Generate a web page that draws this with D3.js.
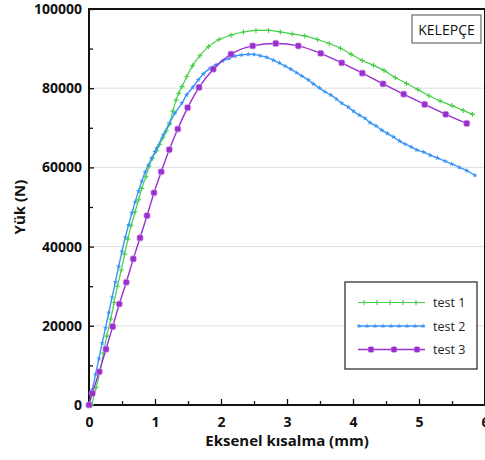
<!DOCTYPE html>
<html>
<head>
<meta charset="utf-8">
<script src="https://cdn.jsdelivr.net/npm/d3@7"></script>
<style>
  html, body { margin: 0; padding: 0; background: #fff; }
  svg { display: block; }
</style>
</head>
<body>
<svg id="chart" width="485" height="460"></svg>
<script>
// Axial shortening (mm) vs load (N) for three clamp ("kelepçe") tests
const seriesNames = ["test 1", "test 2", "test 3"];

const test1Disp = [0.04, 0.11, 0.17, 0.22, 0.27, 0.33, 0.38, 0.43, 0.49, 0.54, 0.59, 0.64, 0.70, 0.75, 0.80,
  0.86, 0.91, 0.96, 1.02, 1.07, 1.12, 1.17, 1.22, 1.27, 1.32, 1.36, 1.41, 1.48, 1.57, 1.68, 1.81, 1.97,
  2.15, 2.34, 2.53, 2.72, 2.90, 3.08, 3.27, 3.46, 3.64, 3.81, 3.97, 4.14, 4.31, 4.47, 4.64, 4.81, 4.98,
  5.15, 5.32, 5.50, 5.67, 5.81];
const test1Load = [0, 4500, 8800, 13100, 17400, 21700, 25900, 30000, 34100, 38100, 41900, 45400, 48800, 51800, 54700,
  57600, 60300, 62300, 64200, 65800, 67500, 69200, 71000, 74200, 77000, 78700, 80400, 82900, 85700, 88200, 90500, 92300,
  93400, 94200, 94600, 94600, 94200, 93700, 93200, 92300, 91300, 90100, 88600, 87000, 85800, 84500, 82700, 81200, 79700,
  78100, 76800, 75600, 74400, 73400];

const test2Disp = [0, 0.05, 0.10, 0.15, 0.20, 0.25, 0.30, 0.35, 0.40, 0.45, 0.50, 0.55, 0.60, 0.65, 0.70, 0.75,
  0.80, 0.85, 0.90, 0.95, 1.00, 1.026, 1.126, 1.217, 1.303, 1.405, 1.480, 1.571, 1.656, 1.732, 1.833, 1.924,
  2.026, 2.121, 2.212, 2.314, 2.414, 2.500, 2.591, 2.692, 2.792, 2.883, 2.970, 3.056, 3.147, 3.223, 3.323,
  3.398, 3.489, 3.576, 3.662, 3.753, 3.829, 3.929, 4.005, 4.095, 4.182, 4.258, 4.348, 4.435, 4.520, 4.611,
  4.702, 4.788, 4.879, 4.965, 5.065, 5.167, 5.277, 5.394, 5.495, 5.611, 5.723, 5.848];
const test2Load = [0, 3900, 7800, 11700, 15600, 19500, 23300, 27200, 31100, 35000, 38800, 42300, 45500, 48500, 51300, 54000,
  56500, 58800, 60600, 62300, 63900, 64800, 68200, 71100, 73700, 76200, 78300, 80200, 82100, 83600, 85000, 85900,
  86900, 87500, 88100, 88400, 88550, 88550, 88200, 87800, 87100, 86400, 85600, 84800, 83900, 83100, 82100,
  81100, 80100, 79100, 78300, 77200, 76200, 75200, 74200, 73200, 72400, 71300, 70500, 69400, 68600, 67700,
  66700, 65900, 65200, 64400, 63900, 63100, 62400, 61600, 60900, 60000, 59200, 58000];

const test3Disp = [0, 0.05, 0.156, 0.258, 0.359, 0.459, 0.565, 0.671, 0.773, 0.879, 0.985, 1.095, 1.217, 1.345,
  1.495, 1.667, 1.883, 2.152, 2.480, 2.829, 3.171, 3.511, 3.829, 4.141, 4.455, 4.768, 5.086, 5.405, 5.723];
const test3Load = [0, 2950, 8400, 14100, 19800, 25500, 31000, 36900, 42200, 47800, 53600, 58900, 64500, 69700,
  75100, 80200, 84800, 88600, 90700, 91300, 90700, 88800, 86400, 83800, 81100, 78500, 75900, 73400, 71100];

const xMajorTicks = [0, 1, 2, 3, 4, 5, 6];
const xMinorTicks = [0.5, 1.5, 2.5, 3.5, 4.5, 5.5];
const yMajorTicks = [0, 20000, 40000, 60000, 80000, 100000];
const yMinorTicks = [10000, 30000, 50000, 70000, 90000];

const xTitle = "Eksenel kısalma (mm)";
const yTitle = "Yük (N)";
const panelTitle = "KELEPÇE";

const colors = ["#44d044", "#3a95f7", "#9a2fcf"];

const svg = d3.select("#chart");
const plot = { left: 89, right: 485, top: 9, bottom: 405 };

const x = d3.scaleLinear().domain([0, 6]).range([plot.left, plot.right]);
const y = d3.scaleLinear().domain([0, 100000]).range([plot.bottom, plot.top]);

// horizontal gridlines
svg.append("g")
  .selectAll("line")
  .data(yMajorTicks.filter(v => v > 0 && v < 100000))
  .join("line")
  .attr("x1", plot.left).attr("x2", plot.right)
  .attr("y1", d => y(d)).attr("y2", d => y(d))
  .attr("stroke", "#dedede").attr("stroke-width", 1);

const labelFont = "'Open Sans', 'DejaVu Sans', sans-serif";

// x axis: major ticks with labels, minor ticks without
const xAxis = svg.append("g")
  .attr("transform", `translate(0,${plot.bottom})`)
  .call(d3.axisBottom(x).tickValues(xMajorTicks).tickFormat(d3.format("d"))
    .tickSizeInner(-6).tickSizeOuter(0).tickPadding(12));
xAxis.selectAll("text").attr("font-family", labelFont).attr("font-size", 14).attr("font-weight", 700).attr("fill", "#111");
xAxis.select(".domain").remove();
xAxis.selectAll(".tick line").attr("stroke", "#111").attr("stroke-width", 1.3);

svg.append("g")
  .attr("transform", `translate(0,${plot.bottom})`)
  .call(d3.axisBottom(x).tickValues(xMinorTicks).tickFormat("").tickSizeInner(-4).tickSizeOuter(0))
  .call(g => g.select(".domain").remove())
  .selectAll(".tick line").attr("stroke", "#111").attr("stroke-width", 1.3);

// y axis
const yAxis = svg.append("g")
  .attr("transform", `translate(${plot.left},0)`)
  .call(d3.axisLeft(y).tickValues(yMajorTicks).tickFormat(d3.format("d"))
    .tickSizeInner(-5).tickSizeOuter(0).tickPadding(7));
yAxis.selectAll("text").attr("font-family", labelFont).attr("font-size", 14).attr("font-weight", 700).attr("fill", "#111");
yAxis.select(".domain").remove();
yAxis.selectAll(".tick line").attr("stroke", "#111").attr("stroke-width", 1.3);

svg.append("g")
  .attr("transform", `translate(${plot.left},0)`)
  .call(d3.axisLeft(y).tickValues(yMinorTicks).tickFormat("").tickSizeInner(-4).tickSizeOuter(0))
  .call(g => g.select(".domain").remove())
  .selectAll(".tick line").attr("stroke", "#111").attr("stroke-width", 1.3);

// plot frame
svg.append("rect")
  .attr("x", plot.left).attr("y", plot.top)
  .attr("width", plot.right - plot.left).attr("height", plot.bottom - plot.top)
  .attr("fill", "none").attr("stroke", "#111").attr("stroke-width", 2);

// axis titles
svg.append("text")
  .attr("x", (plot.left + plot.right) / 2).attr("y", 446)
  .attr("text-anchor", "middle")
  .attr("font-family", labelFont).attr("font-size", 15).attr("font-weight", 700).attr("fill", "#111")
  .text(xTitle);

svg.append("text")
  .attr("transform", `translate(25,${(plot.top + plot.bottom) / 2}) rotate(-90)`)
  .attr("text-anchor", "middle")
  .attr("font-family", labelFont).attr("font-size", 15).attr("font-weight", 700).attr("fill", "#111")
  .text(yTitle);

// series
const series = [
  { name: seriesNames[0], pts: test1Disp.map((d, i) => [d, test1Load[i]]), color: colors[0], width: 1.2, marker: "plus" },
  { name: seriesNames[1], pts: test2Disp.map((d, i) => [d, test2Load[i]]), color: colors[1], width: 1.4, marker: "star" },
  { name: seriesNames[2], pts: test3Disp.map((d, i) => [d, test3Load[i]]), color: colors[2], width: 1.4, marker: "square" }
];

const line = d3.line().x(d => x(d[0])).y(d => y(d[1])).curve(d3.curveMonotoneX);

function drawMarker(g, kind, color) {
  if (kind === "plus") {
    g.append("path").attr("d", "M-2.5,0H2.5M0,-2.5V2.5")
      .attr("stroke", color).attr("stroke-width", 1.1).attr("fill", "none");
  } else if (kind === "star") {
    g.append("path").attr("d", d3.symbol(d3.symbolStar, 9)())
      .attr("fill", color).attr("stroke", "none");
  } else {
    g.append("circle").attr("r", 3.6).attr("fill", "#c98be6").attr("opacity", 0.8);
    g.append("rect").attr("x", -2.6).attr("y", -2.6).attr("width", 5.2).attr("height", 5.2)
      .attr("rx", 1).attr("fill", color);
  }
}

const seriesLayer = svg.append("g");
series.forEach(s => {
  const g = seriesLayer.append("g");
  g.append("path").datum(s.pts).attr("d", line)
    .attr("fill", "none").attr("stroke", s.color).attr("stroke-width", s.width);
  g.selectAll("g.m").data(s.pts).join("g").attr("class", "m")
    .attr("transform", d => `translate(${x(d[0])},${y(d[1])})`)
    .each(function () { drawMarker(d3.select(this), s.marker, s.color); });
});

// legend
const legend = svg.append("g");
legend.append("rect")
  .attr("x", 345).attr("y", 282).attr("width", 132).attr("height", 87)
  .attr("fill", "#fff").attr("stroke", "#333").attr("stroke-width", 1.3);

const legendRows = [302.5, 326, 349.5];
const legendMarkerX = [
  [364, 377, 390, 403, 416],
  [359, 367, 375, 383, 391, 399, 407, 415, 423],
  [371, 394, 417]
];
series.forEach((s, i) => {
  const ly = legendRows[i];
  legend.append("line").attr("x1", 358).attr("x2", 425).attr("y1", ly).attr("y2", ly)
    .attr("stroke", s.color).attr("stroke-width", s.width);
  legendMarkerX[i].forEach(mx => {
    drawMarker(legend.append("g").attr("transform", `translate(${mx},${ly})`), s.marker, s.color);
  });
  legend.append("text").attr("x", 433).attr("y", ly + 4.5)
    .attr("font-family", labelFont).attr("font-size", 12.5).attr("fill", "#222")
    .text(s.name);
});

// panel label
const tag = svg.append("g");
tag.append("rect").attr("x", 412).attr("y", 15).attr("width", 69).attr("height", 28)
  .attr("fill", "#fff").attr("stroke", "#777").attr("stroke-width", 1.3);
tag.append("text").attr("x", 446.5).attr("y", 34.5).attr("text-anchor", "middle")
  .attr("font-family", labelFont).attr("font-size", 14).attr("fill", "#111")
  .text(panelTitle);
</script>
</body>
</html>
